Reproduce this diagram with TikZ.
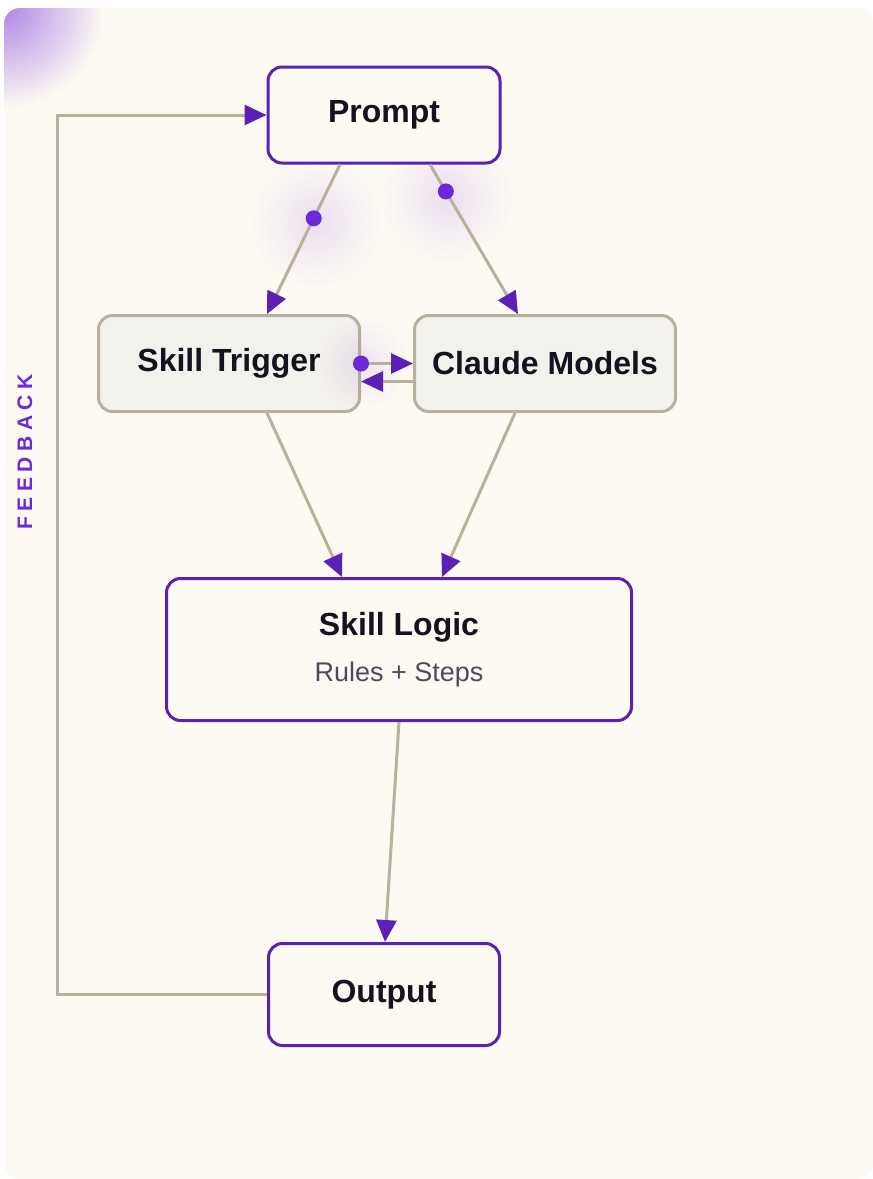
\documentclass[tikz,border=0pt]{standalone}
\usepackage{fontspec}
\setmainfont{Liberation Sans}
\usetikzlibrary{arrows.meta,calc,fadings}
\definecolor{cardbg}{HTML}{FDFAF4}
\definecolor{purp}{HTML}{5B21B6}
\definecolor{dotc}{HTML}{6D28D9}
\definecolor{tanc}{HTML}{BAB09E}
\definecolor{greyfill}{HTML}{F3F1EC}
\definecolor{ink}{HTML}{15121F}
\definecolor{subt}{HTML}{4E4A5E}
\tikzfading[name=glowfade, inner color=transparent!0, outer color=transparent!100]
\tikzset{
  mainbox/.style={draw=purp, line width=3pt, rounded corners=14pt, fill=cardbg,
    font=\fontsize{32}{38}\selectfont\bfseries, text=ink, align=center},
  greybox/.style={draw=tanc, line width=3pt, rounded corners=14pt, fill=greyfill,
    font=\fontsize{32}{38}\selectfont\bfseries, text=ink},
  conn/.style={draw=tanc, line width=3pt, -{Triangle[length=22pt,width=20pt,color=purp]}},
  dotnode/.style={circle, fill=dotc, inner sep=0pt, minimum size=16pt},
  glow/.style={fill=dotc, fill opacity=0.13, path fading=glowfade}
}
\begin{document}
\begin{tikzpicture}[x=1pt,y=-1pt]
\useasboundingbox (0,0) rectangle (873,1179);
\fill[white] (0,0) rectangle (873,1179);
\fill[cardbg, rounded corners=16pt] (4,8) rectangle (873,1179);
% corner glow
\begin{scope}
  \clip[rounded corners=16pt] (4,8) rectangle (873,1179);
  \fill[dotc, fill opacity=0.55, path fading=glowfade] (4,8) circle (100);
\end{scope}
% glows around dots
\fill[glow] (316,222) circle (65);
\fill[glow] (447,198) circle (65);

% nodes
\node[mainbox, minimum width=232pt, minimum height=96pt] (prompt) at (384,115) {Prompt};
\node[greybox, minimum width=261pt, minimum height=96pt] (trigger) at (229,363.5) {Skill Trigger};
\node[greybox, minimum width=261pt, minimum height=96pt] (claude) at (545,363.5) {Claude Models};
\node[mainbox, minimum width=465pt, minimum height=142pt] (logic) at (399,649.5)
  {Skill Logic\\[8pt]{\fontsize{27}{32}\selectfont\mdseries\color{subt}Rules + Steps}};
\node[mainbox, minimum width=231pt, minimum height=102pt] (output) at (384,994.5) {Output};

\fill[glow, fill opacity=0.1] (363,363) circle (45);

% connectors
\draw[conn] ($(prompt.south)+(-44,0)$) -- node[pos=0.36, dotnode] (d1) {} ($(trigger.north)+(38,0)$);
\draw[conn] ($(prompt.south)+(46,0)$) -- node[pos=0.18, dotnode] (d2) {} ($(claude.north)+(-27,0)$);
\draw[conn] (trigger.east) -- (claude.west);
\node[dotnode] (d3) at (trigger.east) {};
\draw[conn] ($(claude.west)+(0,18)$) -- ($(trigger.east)+(0,18)$);
\draw[conn] ($(trigger.south)+(38,0)$) -- ($(logic.north)+(-57,0)$);
\draw[conn] ($(claude.south)+(-30,0)$) -- ($(logic.north)+(43,0)$);
\draw[conn] (logic.south) -- ($(output.north)+(1,0)$);
\coordinate (fbturn) at (57,994.5);
\draw[conn] (output.west) -- (fbturn) |- (prompt.west);

\node[rotate=90, text=dotc, font=\fontsize{21}{24}\selectfont\bfseries] (fbl) at (25,452)
  {F\kern5.5pt E\kern5.5pt E\kern5.5pt D\kern5.5pt B\kern5.5pt A\kern5.5pt C\kern5.5pt K};
\end{tikzpicture}
\end{document}
